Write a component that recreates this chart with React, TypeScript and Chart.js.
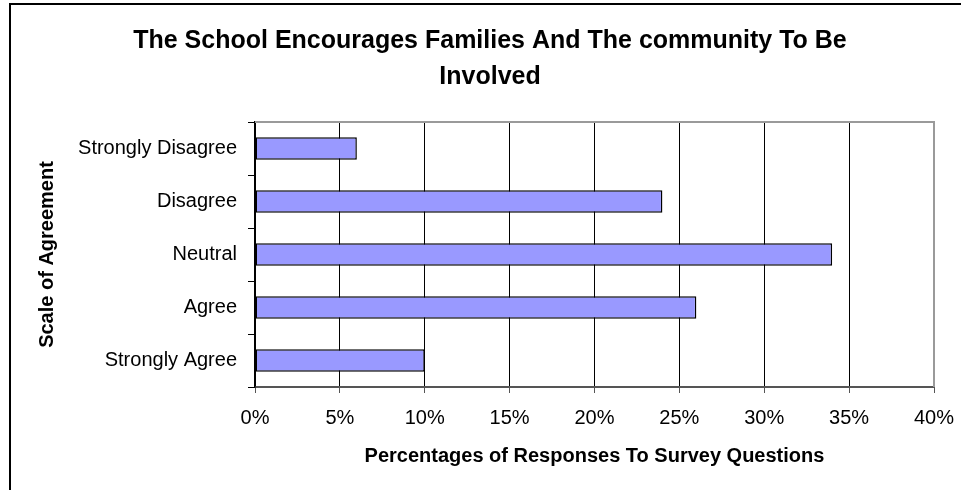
import React, { useEffect, useRef } from "react";
import { Chart, registerables } from "chart.js";

Chart.register(...registerables);

const categories = ["Strongly Disagree", "Disagree", "Neutral", "Agree", "Strongly Agree"];
const percentages = [6, 24, 34, 26, 10];
const titleLines = ["The School Encourages Families And The community To Be", "Involved"];
const xTitle = "Percentages of Responses To Survey Questions";
const yTitle = "Scale of Agreement";
const xMin = 0;
const xMax = 40;
const xStep = 5;

const FONT = "'Liberation Sans', Arial, Helvetica, sans-serif";

export default function App() {
  const ref = useRef<HTMLCanvasElement | null>(null);

  useEffect(() => {
    document.body.style.margin = "0";
    const canvas = ref.current;
    if (!canvas) return;

    const framePlugin = {
      id: "frame",
      afterDraw(chart: any) {
        const { ctx, chartArea } = chart;
        ctx.save();
        // outer border (top and left)
        ctx.strokeStyle = "#000";
        ctx.lineWidth = 2;
        ctx.beginPath();
        ctx.moveTo(10, 490);
        ctx.lineTo(10, 4);
        ctx.lineTo(961, 4);
        ctx.stroke();
        // plot frame top and right (gray)
        ctx.strokeStyle = "#9a9a9a";
        ctx.lineWidth = 2;
        ctx.beginPath();
        ctx.moveTo(chartArea.left, chartArea.top);
        ctx.lineTo(chartArea.right, chartArea.top);
        ctx.lineTo(chartArea.right, chartArea.bottom);
        ctx.stroke();
        // title
        ctx.fillStyle = "#000";
        ctx.font = `bold 25px ${FONT}`;
        ctx.textAlign = "center";
        ctx.textBaseline = "alphabetic";
        titleLines.forEach((t, i) => ctx.fillText(t, 490, 48 + i * 36));
        ctx.restore();
      },
    };

    const chart = new Chart(canvas, {
      type: "bar",
      data: {
        labels: categories,
        datasets: [
          {
            data: percentages,
            backgroundColor: "#9999FF",
            borderColor: "#000",
            borderWidth: 1.5,
            borderSkipped: false,
            barPercentage: 0.42,
            categoryPercentage: 1,
          },
        ],
      },
      options: {
        indexAxis: "y",
        responsive: false,
        animation: false,
        layout: { padding: { top: 122, right: 27, bottom: 0, left: 0 } },
        plugins: {
          legend: { display: false },
          title: { display: false },
          tooltip: { enabled: false },
        },
        scales: {
          x: {
            type: "linear",
            min: xMin,
            max: xMax,
            ticks: {
              stepSize: xStep,
              color: "#000",
              font: { family: FONT, size: 20 },
              padding: 13,
              maxRotation: 0,
              minRotation: 0,
              callback: (v: any) => `${v}%`,
            },
            grid: {
              color: (c: any) => (c.index === 8 ? "#9a9a9a" : "#000"),
              lineWidth: 1,
              tickLength: 6,
              tickColor: "#555",
            },
            border: { color: "#555", width: 2 },
            title: {
              display: true,
              text: xTitle,
              color: "#000",
              font: { family: FONT, size: 20, weight: "bold" },
              padding: { top: 0, bottom: 22 },
            },
            afterFit: (s: any) => {
              s.height = 103;
              s.paddingLeft = 0;
              s.paddingRight = 0;
            },
          },
          y: {
            type: "category",
            offset: true,
            ticks: {
              color: "#000",
              font: { family: FONT, size: 20 },
              padding: 11,
            },
            grid: {
              offset: true,
              drawOnChartArea: false,
              tickLength: 7,
              tickColor: "#000",
              lineWidth: 1,
            },
            border: { color: "#000", width: 1.5 },
            title: {
              display: true,
              text: yTitle,
              color: "#000",
              font: { family: FONT, size: 20, weight: "bold" },
              padding: { top: 35, bottom: 0 },
            },
            afterFit: (s: any) => {
              s.width = 255;
            },
          },
        },
      },
      plugins: [framePlugin],
    });

    return () => chart.destroy();
  }, []);

  return (
    <div style={{ width: 961, height: 490, background: "#fff" }}>
      <canvas ref={ref} width={961} height={490} style={{ display: "block" }} />
    </div>
  );
}
